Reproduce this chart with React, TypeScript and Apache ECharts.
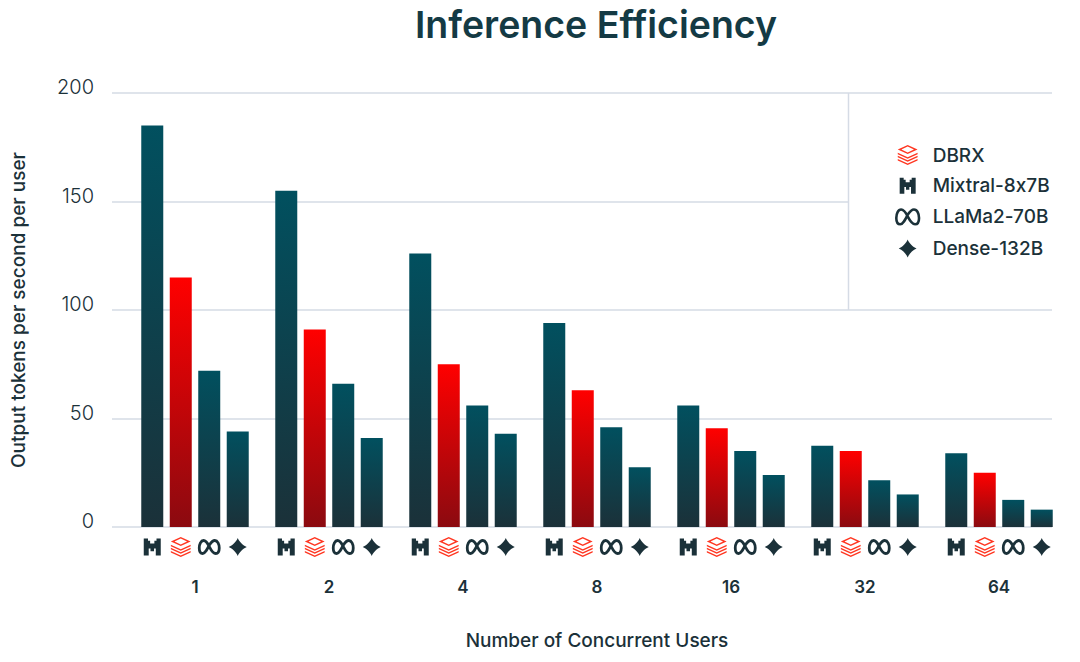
import React, { useEffect, useRef } from "react";
import * as echarts from "echarts";

const categories = ["1", "2", "4", "8", "16", "32", "64"];
const mixtral = [185, 155, 126, 94, 56, 37.5, 34];
const dbrx = [115, 91, 75, 63, 45.5, 35, 25];
const llama = [72, 66, 56, 46, 35, 21.5, 12.5];
const dense = [44, 41, 43, 27.5, 24, 15, 8];
const yTicks = [0, 50, 100, 150, 200];

const FONT = "Inter";
const INK = "#1b3139";
const TITLE_INK = "#143a44";
const RED = "#ff3621";
const GRID = "#d5dbe5";

const PATH_M = "M0 1H6V4H9V8H15V4H18V1H24V25H17V15H14.5V19H9.5V15H7V25H0Z";
const PATH_DB = "M12 0L23 5L12 10L1 5ZM12 1.8L5 5L12 8.2L19 5ZM1 8.5L12 13.5L23 8.5V10.2L12 15.2L1 10.2ZM1 12L12 17L23 12V13.7L12 18.7L1 13.7ZM1 15.5L12 20.5L23 15.5V17.2L12 22.2L1 17.2Z";
const PATH_META = "M12 7.5C9.8 3 8 1 5.8 1C3 1 1.2 5 1.2 9C1.2 13 2.8 15 5 15C7.5 15 9.5 11 12 6C14 3 15.5 1 18 1C21 1 22.8 5 22.8 9C22.8 13 21.2 15 19 15C16.5 15 14.3 12 12 7.5Z";
const PATH_STAR = "M12 0C14 5 19 10 24 12C19 14 14 19 12 24C10 19 5 14 0 12C5 10 10 5 12 0Z";

const barGradient = (top: string, bottom: string) => ({
  type: "linear", x: 0, y: 0, x2: 0, y2: 1,
  colorStops: [{ offset: 0, color: top }, { offset: 1, color: bottom }],
});
const TEAL = barGradient("#01505f", "#1b3139");
const CRIM = barGradient("#ff0000", "#8b0a10");

const BAR_W = 22;
const BAR_STEP = 28.5;
const iconDefs = [
  { path: PATH_M, w: 17, h: 17, fill: INK, stroke: "none", lw: 0 },
  { path: PATH_DB, w: 20, h: 20, fill: RED, stroke: "none", lw: 0 },
  { path: PATH_META, w: 20, h: 13.5, fill: "none", stroke: INK, lw: 2.8 },
  { path: PATH_STAR, w: 18, h: 18, fill: INK, stroke: "none", lw: 0 },
];
const iconData: number[][] = [];
categories.forEach((_, c) => iconDefs.forEach((_, s) => iconData.push([c, 0, s])));

const bar = (name: string, data: number[], color: any) => ({
  name, type: "bar", data, xAxisIndex: 1, yAxisIndex: 1, barWidth: BAR_W, barGap: "29.5%",
  itemStyle: { color },
});

export default function App() {
  const ref = useRef<HTMLDivElement>(null);
  useEffect(() => {
    const chart = echarts.init(ref.current!, undefined, { renderer: "svg" });
    chart.setOption({
      animation: false,
      backgroundColor: "#fff",
      title: {
        text: "Inference Efficiency", left: 591, top: 0, textAlign: "center",
        textStyle: { fontFamily: FONT, fontSize: 37.5, fontWeight: 600, color: TITLE_INK },
      },
      grid: [
        { left: 112, right: 28, top: 93, bottom: 135 },
        { left: 128, right: 14, top: 93, bottom: 135 },
      ],
      xAxis: [
        { type: "value", gridIndex: 0, show: false, min: 0, max: 1 },
        {
          type: "category", gridIndex: 1, data: categories,
          name: "Number of Concurrent Users", nameLocation: "middle", nameGap: 104,
          nameTextStyle: { fontFamily: FONT, fontSize: 19, fontWeight: 500, color: INK },
          axisLine: { show: false }, axisTick: { show: false },
          axisLabel: { margin: 51, fontFamily: FONT, fontSize: 17, fontWeight: 600, color: INK },
        },
      ],
      yAxis: [
        {
          type: "value", gridIndex: 0, min: 0, max: 200, interval: 50,
          name: "Output tokens per second per user", nameLocation: "middle", nameGap: 84,
          nameTextStyle: { fontFamily: FONT, fontSize: 19, fontWeight: 500, color: INK },
          axisLine: { show: false }, axisTick: { show: false },
          axisLabel: {
            margin: 18, fontFamily: FONT, fontSize: 20, fontWeight: 300, color: INK,
            verticalAlign: "bottom", lineHeight: 12,
            formatter: (v: number) => (yTicks.includes(v) ? String(v) : ""),
          },
          splitLine: { show: true, lineStyle: { color: GRID, width: 1.5 } },
        },
        { type: "value", gridIndex: 1, min: 0, max: 200, interval: 50, show: false, splitLine: { show: false } },
      ],
      legend: {
        left: 895, top: 145, padding: 0, orient: "vertical", align: "left", itemWidth: 40, itemHeight: 20, itemGap: 10.3,
        selectedMode: false,
        textStyle: { fontFamily: FONT, fontSize: 19, lineHeight: 20, fontWeight: 500, color: INK },
        data: [
          { name: "DBRX", icon: "path://" + PATH_DB, itemStyle: { color: RED } },
          { name: "Mixtral-8x7B", icon: "path://M12 -2.5M12 27.5" + PATH_M, itemStyle: { color: INK } },
          { name: "LLaMa2-70B", icon: "path://M12 -1.5M12 17.5" + PATH_META, itemStyle: { color: "rgba(0,0,0,0)", borderColor: INK, borderWidth: 2.6 } },
          { name: "Dense-132B", icon: "path://M12 -1.5M12 25.5" + PATH_STAR, itemStyle: { color: INK } },
        ],
      },
      graphic: [
        { type: "rect", shape: { x: 848.5, y: 94.5, width: 215, height: 214.5 }, style: { fill: "#fff" }, z: 1, silent: true },
        { type: "line", shape: { x1: 848.5, y1: 93, x2: 848.5, y2: 310 }, style: { stroke: GRID, lineWidth: 1.5 }, z: 2, silent: true },
      ],
      series: [
        bar("Mixtral-8x7B", mixtral, TEAL),
        bar("DBRX", dbrx, CRIM),
        bar("LLaMa2-70B", llama, TEAL),
        bar("Dense-132B", dense, TEAL),
        {
          type: "custom", xAxisIndex: 1, yAxisIndex: 1, data: iconData, clip: false, silent: true,
          encode: { x: 0, y: 1 },
          renderItem: (_: any, api: any) => {
            const c = api.value(0);
            const s = api.value(2);
            const p = api.coord([c, 0]);
            const d = iconDefs[s];
            const cx = p[0] + (s - 1.5) * BAR_STEP;
            const cy = p[1] + 20;
            return {
              type: "path",
              shape: { pathData: d.path, x: cx - d.w / 2, y: cy - d.h / 2, width: d.w, height: d.h, layout: "center" },
              style: { fill: d.fill, stroke: d.stroke, lineWidth: d.lw },
            };
          },
        },
      ],
    });
    return () => chart.dispose();
  }, []);
  return <div ref={ref} style={{ position: "fixed", left: 0, top: 0, width: 1080, height: 662, fontFeatureSettings: '"calt" 0' }} />;
}
